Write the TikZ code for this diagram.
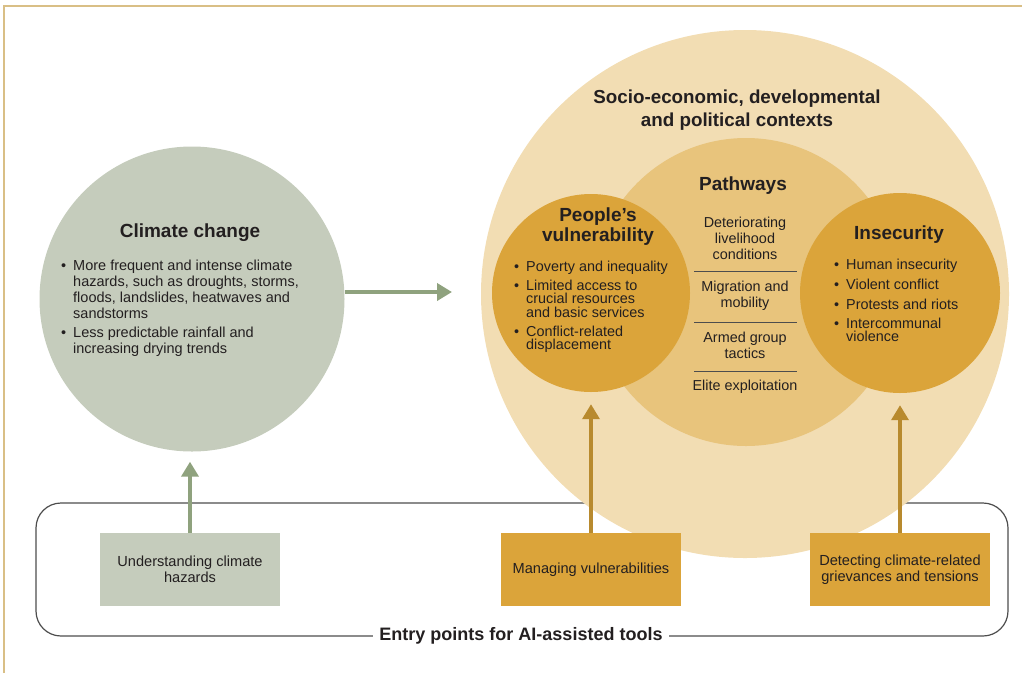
\documentclass[tikz,border=0pt]{standalone}
\usepackage{fontspec}
\setmainfont{Liberation Sans}
\usetikzlibrary{arrows.meta, positioning, calc}
\definecolor{sagegrey}{HTML}{C5CCBC}
\definecolor{sagedark}{HTML}{8FA27E}
\definecolor{sandlight}{HTML}{F2DDB3}
\definecolor{wheatmid}{HTML}{E8C47C}
\definecolor{goldochre}{HTML}{DBA43A}
\definecolor{bronzearrow}{HTML}{B88A2E}
\definecolor{frametan}{HTML}{D9BF86}
\definecolor{inkblack}{HTML}{231F20}
\definecolor{entrygrey}{HTML}{4D4D4D}
\newcommand{\lbul}{\makebox[12pt][l]{\textbullet}}
\newcommand{\lind}{\hspace*{12pt}}

\begin{document}
\begin{tikzpicture}[x=1pt, y=-1pt, text=inkblack,
    blob/.style={circle, inner sep=0pt},
    bigtitle/.style={font=\fontsize{19}{19.5}\selectfont\bfseries, align=center},
    bulletlist/.style={anchor=north west, inner sep=0pt, align=left},
    pathtext/.style={font=\fontsize{14.4}{16}\selectfont, align=center},
    entrybox/.style={minimum width=180, minimum height=73, inner sep=2pt, align=center, font=\fontsize{14.6}{16.5}\selectfont},
    climarrow/.style={draw=sagedark, line width=4pt, -{Triangle[length=15pt, width=17pt]}},
    goldarrow/.style={draw=bronzearrow, line width=3.5pt, -{Triangle[length=15pt, width=17pt]}}]
  \useasboundingbox (0,0) rectangle (1022,673);
  % Frame
  \draw[frametan, line width=2pt] (4,673) -- (4,6) -- (1022,6);
  % Entry points
  \draw[entrygrey, line width=1.2pt, rounded corners=25pt] (36,503) rectangle (1008,636);
  \node[fill=white, inner xsep=6pt, font=\fontsize{18}{20}\selectfont\bfseries] (entrylabel) at (521,636) {Entry points for AI-assisted tools};
  % Contexts
  \node[blob, fill=sandlight, minimum size=528] (context) at (745,294) {};
  \node[bigtitle, font=\fontsize{18.8}{23}\selectfont\bfseries] (ctxtitle) at (737,110) {Socio-economic, developmental\\and political contexts};
  % Pathways
  \node[blob, fill=wheatmid, minimum size=308] (pathways) at (746,292) {};
  \node[bigtitle] (pathtitle) at (743,186) {Pathways};
  \node[pathtext] (path1) at (745,238) {Deteriorating\\livelihood\\conditions};
  \node[pathtext] (path2) at (745,296) {Migration and\\mobility};
  \node[pathtext] (path3) at (745,345.5) {Armed group\\tactics};
  \node[pathtext] (path4) at (745,387) {Elite exploitation};
  \draw[entrygrey, line width=0.8pt] (694,271) -- (797,271);
  \draw[entrygrey, line width=0.8pt] (694,322) -- (797,322);
  \draw[entrygrey, line width=0.8pt] (694,371) -- (797,371);
  % Climate change
  \node[blob, fill=sagegrey, minimum size=305] (climate) at (192,299) {};
  \node[bigtitle] (climtitle) at (190,233) {Climate change};
  \node[bulletlist, font=\fontsize{14.5}{15.8}\selectfont] (climlist) at (61,260) {\lbul More frequent and intense climate\\
    \lind hazards, such as droughts, storms,\\
    \lind floods, landslides, heatwaves and\\
    \lind sandstorms\\[3.5pt]
    \lbul Less predictable rainfall and\\
    \lind increasing drying trends};
  % People's vulnerability
  \node[blob, fill=goldochre, minimum size=198] (vuln) at (591,293) {};
  \node[bigtitle] (vulntitle) at (598,226.5) {People’s\\vulnerability};
  \node[bulletlist, font=\fontsize{14.4}{13.5}\selectfont] (vulnlist) at (514,260.5) {\lbul Poverty and inequality\\[5.5pt]
    \lbul Limited access to\\
    \lind crucial resources\\
    \lind and basic services\\[5.5pt]
    \lbul Conflict-related\\
    \lind displacement};
  % Insecurity
  \node[blob, fill=goldochre, minimum size=200] (insec) at (900,293) {};
  \node[bigtitle] (insectitle) at (899,235) {Insecurity};
  \node[bulletlist, font=\fontsize{14.4}{13}\selectfont] (inseclist) at (834,258.5) {\lbul Human insecurity\\[6pt]
    \lbul Violent conflict\\[6.5pt]
    \lbul Protests and riots\\[6.5pt]
    \lbul Intercommunal\\
    \lind violence};
  % Entry boxes
  \node[entrybox, fill=sagegrey] (understand) at (190,569.5) {Understanding climate\\hazards};
  \node[entrybox, fill=goldochre] (manage) at (591,569.5) {Managing vulnerabilities};
  \node[entrybox, fill=goldochre] (detect) at (900,569.5) {Detecting climate-related\\grievances and tensions};
  % Arrows
  \coordinate (ctxin) at (452,292);
  \draw[climarrow] (climate.east |- ctxin) -- (ctxin);
  \draw[climarrow, shorten >=10pt] (understand.north) -- (understand.north |- climate.south);
  \draw[goldarrow, shorten >=12pt] (manage.north) -- (vuln.south);
  \draw[goldarrow, shorten >=12pt] (detect.north) -- (insec.south);
\end{tikzpicture}
\end{document}
